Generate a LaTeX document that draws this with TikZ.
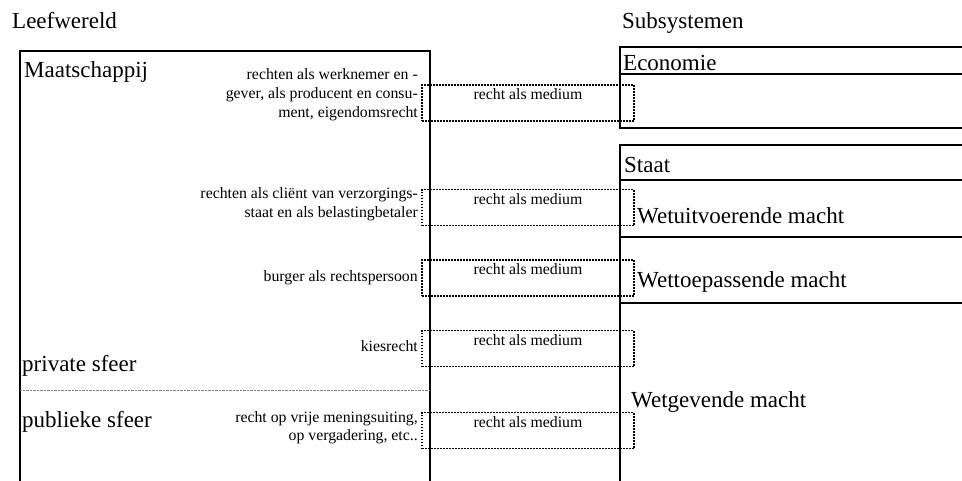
\documentclass[tikz,border=0pt]{standalone}
\usepackage{fontspec}
\setmainfont{Liberation Serif}
\begin{document}
\begin{tikzpicture}[x=1pt,y=-1pt,
  frame/.style={line width=2pt, line cap=rect},
  big/.style={font=\fontsize{23}{27}\selectfont, inner sep=0pt, anchor=base west},
  small/.style={font=\fontsize{15.8}{19}\selectfont, inner sep=0pt, anchor=base east},
  medium/.style={draw, line width=1.6pt, dash pattern=on 1.6pt off 1.4pt,
                 minimum width=212pt, minimum height=36pt, inner sep=0pt},
  mediumtext/.style={font=\fontsize{15.8}{19}\selectfont, inner sep=0pt, anchor=base},
  divider/.style={line width=0.8pt, gray, dash pattern=on 0.8pt off 0.6pt}]
\useasboundingbox (0,0) rectangle (962,480);

% headings
\node[big] (leef) at (12,28) {Leefwereld};
\node[big] (subs) at (622,28) {Subsystemen};

% lifeworld column
\draw[frame] (20,480) -- (20,51) -- (430,51) -- (430,480);
\draw[divider] (20,390) -- (430,390);
\node[big] (maat) at (24,77) {Maatschappij};
\node[big] (priv) at (22,371) {private sfeer};
\node[big] (publ) at (22,427) {publieke sfeer};

% subsystems column
\draw[frame] (962,47) -- (620,47) -- (620,128) -- (962,128);
\draw[frame] (620,74) -- (962,74);
\draw[frame] (962,145) -- (620,145) -- (620,480);
\draw[frame] (620,180) -- (962,180);
\draw[frame] (620,237) -- (962,237);
\draw[frame] (620,303) -- (962,303);
\node[big] (eco) at (623,70) {Economie};
\node[big] (staat) at (624,172) {Staat};
\node[big] (uitv) at (637,223) {Wetuitvoerende macht};
\node[big] (toep) at (637,287) {Wettoepassende macht};
\node[big] (gev) at (631,407) {Wetgevende macht};

% rights held in the lifeworld
\node[small] (r1a) at (418,79) {rechten als werknemer en -};
\node[small] (r1b) at (418,98) {gever, als producent en consu-};
\node[small] (r1c) at (418,117) {ment, eigendomsrecht};
\node[small] (r2a) at (418,198) {rechten als cliënt van verzorgings-};
\node[small] (r2b) at (418,217) {staat en als belastingbetaler};
\node[small] (r3) at (418,281) {burger als rechtspersoon};
\node[small] (r4) at (418,351) {kiesrecht};
\node[small] (r5a) at (418,422) {recht op vrije meningsuiting,};
\node[small] (r5b) at (418,440) {op vergadering, etc..};

% law as medium, bridging both columns
\foreach \n/\t in {m1/85, m2/189.5, m3/260, m4/330.5, m5/412.5} {
  \node[medium] (\n) at (528,\t+18) {};
  \node[mediumtext] (\n t) at ([yshift=-15.5pt]\n.north) {recht als medium};
}
\end{tikzpicture}
\end{document}
